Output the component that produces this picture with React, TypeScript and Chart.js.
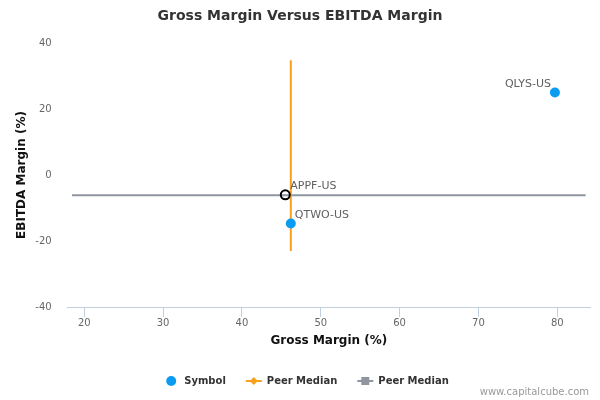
import React, { useEffect, useRef } from "react";
import { Chart, registerables } from "chart.js";

Chart.register(...registerables);

// ---- data ----
const symbolNames = ["QLYS-US", "QTWO-US"];
const symbolGross = [79.7, 46.2];
const symbolEbitda = [25.0, -14.7];

const companyName = ["APPF-US"];
const companyGross = [45.5];
const companyEbitda = [-6.0];

const peerMedianGross = 46.2;
const peerEbitdaSpan = [34.8, -23.0];
const peerMedianEbitda = -6.1;
const peerGrossSpan = [18.44, 83.6];

const xTicks = [20, 30, 40, 50, 60, 70, 80];
const yTicks = [-40, -20, 0, 20, 40];
const xRange = [17.9, 84.15];
const yRange = [-40, 40];

const legendLabels = ["Symbol", "Peer Median", "Peer Median"];

const FONT = "'DejaVu Sans', sans-serif";
const BLUE = "#0a9cf0";
const ORANGE = "#f8a11e";
const GRAY = "#9096a0";

const labelStyle: Record<string, { align: CanvasTextAlign; dx: number; dy: number }> = {
  "QLYS-US": { align: "right", dx: -4, dy: -8 },
  "QTWO-US": { align: "left", dx: 4, dy: -8 },
  "APPF-US": { align: "left", dx: 5, dy: -9 },
};

const decorPlugin = {
  id: "decor",
  afterDatasetsDraw(chart: any) {
    const ctx = chart.ctx as CanvasRenderingContext2D;
    ctx.save();
    ctx.font = `11px ${FONT}`;
    ctx.fillStyle = "#606060";
    ctx.textBaseline = "middle";
    chart.data.datasets.forEach((ds: any, i: number) => {
      if (!ds.pointNames) return;
      const meta = chart.getDatasetMeta(i);
      meta.data.forEach((pt: any, j: number) => {
        const name = ds.pointNames[j];
        const st = labelStyle[name] || { align: "left", dx: 4, dy: -8 };
        ctx.textAlign = st.align;
        ctx.fillText(name, pt.x + st.dx, pt.y + st.dy);
      });
    });
    ctx.restore();
  },
  afterDraw(chart: any) {
    const ctx = chart.ctx as CanvasRenderingContext2D;
    ctx.save();
    // title
    ctx.font = `bold 14px ${FONT}`;
    ctx.fillStyle = "#333333";
    ctx.textAlign = "center";
    ctx.textBaseline = "middle";
    ctx.fillText("Gross Margin Versus EBITDA Margin", 300, 16);

    // legend
    const ly = 381;
    ctx.font = `bold 10px ${FONT}`;
    const symW = 16;
    const gap = 5;
    const itemGap = 20;
    const widths = legendLabels.map((t) => ctx.measureText(t).width);
    const total = widths.reduce((a, w) => a + symW + gap + w, 0) + itemGap * (legendLabels.length - 1);
    let x = 306 - total / 2;
    ctx.textAlign = "left";
    ctx.fillStyle = "#333333";
    legendLabels.forEach((t, i) => {
      const cx = x + symW / 2;
      if (i === 0) {
        ctx.beginPath();
        ctx.fillStyle = BLUE;
        ctx.arc(cx, ly, 5, 0, Math.PI * 2);
        ctx.fill();
      } else {
        const col = i === 1 ? ORANGE : GRAY;
        ctx.strokeStyle = col;
        ctx.lineWidth = 2;
        ctx.beginPath();
        ctx.moveTo(x, ly);
        ctx.lineTo(x + symW, ly);
        ctx.stroke();
        ctx.fillStyle = col;
        ctx.beginPath();
        if (i === 1) {
          ctx.moveTo(cx, ly - 4);
          ctx.lineTo(cx + 4, ly);
          ctx.lineTo(cx, ly + 4);
          ctx.lineTo(cx - 4, ly);
          ctx.closePath();
        } else {
          ctx.rect(cx - 4, ly - 4, 8, 8);
        }
        ctx.fill();
      }
      ctx.fillStyle = "#333333";
      ctx.fillText(t, x + symW + gap, ly);
      x += symW + gap + widths[i] + itemGap;
    });

    // credit
    ctx.font = `10px ${FONT}`;
    ctx.fillStyle = "#999999";
    ctx.textAlign = "right";
    ctx.fillText("www.capitalcube.com", 589, 392);
    ctx.restore();
  },
};

export default function App() {
  const ref = useRef<HTMLCanvasElement | null>(null);

  useEffect(() => {
    if (!ref.current) return;
    const chart = new Chart(ref.current, {
      type: "scatter",
      data: {
        datasets: [
          {
            label: "Company",
            data: companyGross.map((g, i) => ({ x: g, y: companyEbitda[i] })),
            pointNames: companyName,
            pointRadius: 4.5,
            pointHoverRadius: 4.5,
            borderColor: "#000000",
            borderWidth: 2,
            backgroundColor: "rgba(255,255,255,0)",
            order: 1,
          } as any,
          {
            label: legendLabels[0],
            data: symbolGross.map((g, i) => ({ x: g, y: symbolEbitda[i] })),
            pointNames: symbolNames,
            pointRadius: 5,
            pointHoverRadius: 5,
            borderWidth: 0,
            backgroundColor: BLUE,
            borderColor: BLUE,
            order: 2,
          } as any,
          {
            label: legendLabels[1],
            data: peerEbitdaSpan.map((y) => ({ x: peerMedianGross, y })),
            showLine: true,
            pointRadius: 0,
            borderColor: ORANGE,
            borderWidth: 2,
            order: 3,
          },
          {
            label: legendLabels[2],
            data: peerGrossSpan.map((x) => ({ x, y: peerMedianEbitda })),
            showLine: true,
            pointRadius: 0,
            borderColor: GRAY,
            borderWidth: 2,
            order: 4,
          },
        ],
      },
      options: {
        animation: false,
        responsive: false,
        devicePixelRatio: 1,
        layout: { padding: { top: 43, left: 0, right: 10, bottom: 48 } },
        plugins: {
          legend: { display: false },
          title: { display: false },
          tooltip: { enabled: false },
        },
        scales: {
          x: {
            type: "linear",
            min: xRange[0],
            max: xRange[1],
            afterBuildTicks: (s: any) => {
              s.ticks = xTicks.map((v) => ({ value: v }));
            },
            afterFit: (s: any) => {
              s.height = 45;
            },
            grid: {
              display: true,
              drawOnChartArea: false,
              drawTicks: true,
              tickLength: 10,
              color: "#c0d0e0",
            },
            border: { display: true, color: "#c0d0e0", width: 1 },
            ticks: {
              padding: 0,
              color: "#666666",
              font: { family: FONT, size: 10 },
              maxRotation: 0,
            },
            title: {
              display: true,
              text: "Gross Margin (%)",
              color: "#111111",
              font: { family: FONT, size: 12, weight: "bold" },
              padding: { top: 0, bottom: 4 },
            },
          },
          y: {
            type: "linear",
            min: yRange[0],
            max: yRange[1],
            afterBuildTicks: (s: any) => {
              s.ticks = yTicks.map((v) => ({ value: v }));
            },
            afterFit: (s: any) => {
              s.width = 67.7;
            },
            grid: { display: false, drawTicks: false },
            border: { display: false },
            ticks: {
              padding: 16,
              color: "#666666",
              font: { family: FONT, size: 10 },
            },
            title: {
              display: true,
              text: "EBITDA Margin (%)",
              color: "#111111",
              font: { family: FONT, size: 12, weight: "bold" },
              padding: { top: 15, bottom: 0 },
            },
          },
        },
      },
      plugins: [decorPlugin],
    });
    return () => chart.destroy();
  }, []);

  return (
    <div style={{ position: "absolute", left: 0, top: 0, width: 600, height: 400, background: "#fff" }}>
      <canvas ref={ref} width={600} height={400} />
    </div>
  );
}
